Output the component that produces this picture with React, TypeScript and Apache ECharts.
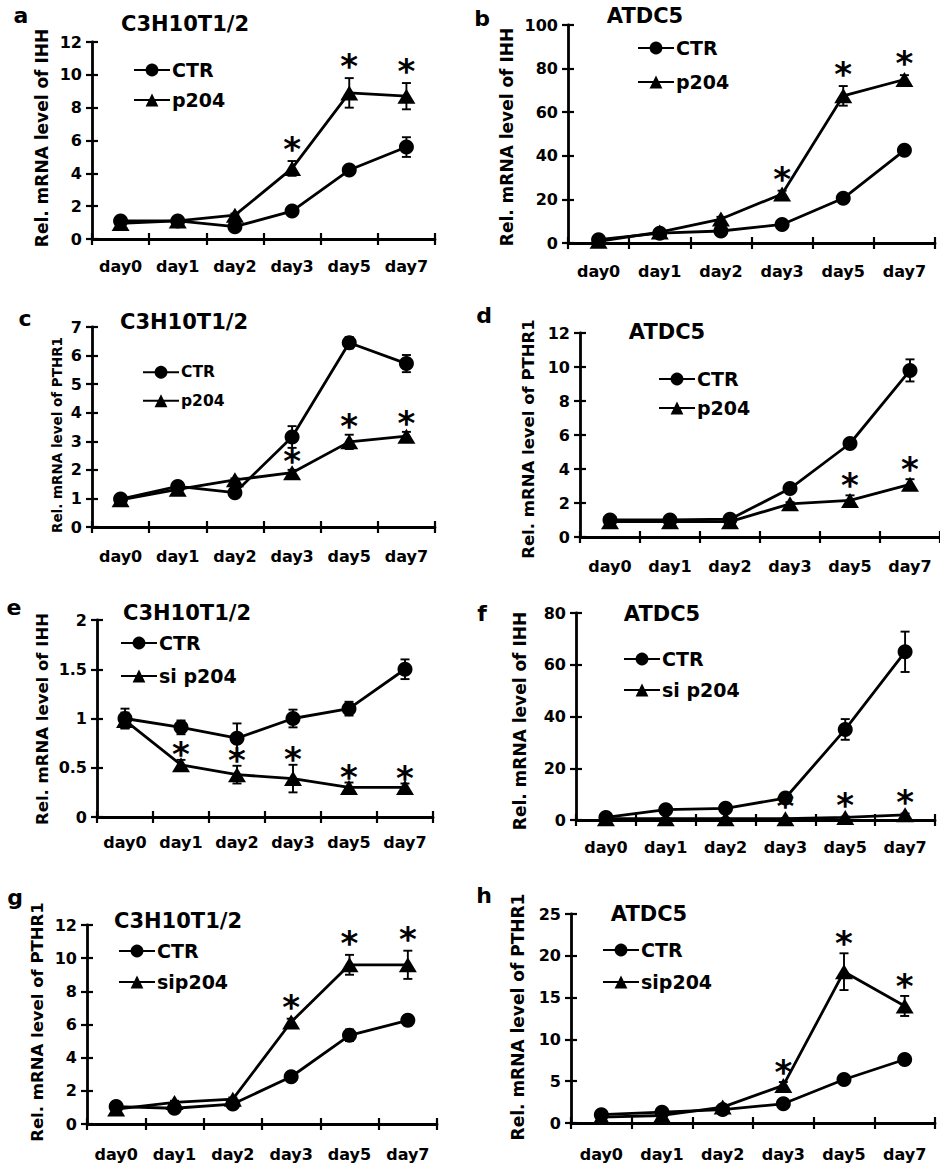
import React, { useEffect, useRef } from "react";
import * as echarts from "echarts";

// ---------------- DATA ----------------
const categories = ["day0", "day1", "day2", "day3", "day5", "day7"];

// a: C3H10T1/2, IHH, p204 overexpression
const aCTR = [1.1, 1.1, 0.75, 1.7, 4.2, 5.6];
const aCTRErr = [0.1, 0.1, 0.1, 0.12, 0.12, 0.6];
const aTRT = [0.95, 1.1, 1.45, 4.3, 8.9, 8.7];
const aTRTErr = [0.08, 0.1, 0.1, 0.45, 0.9, 0.8];
const aStars = [0, 0, 0, 1, 1, 1];

// b: ATDC5, IHH, p204
const bCTR = [1.5, 4.5, 5.5, 8.5, 20.5, 42.5];
const bCTRErr = [0.5, 0.5, 0.5, 0.8, 1.5, 1.5];
const bTRT = [0.8, 5, 11, 22.5, 67.5, 75];
const bTRTErr = [0.5, 1, 1, 1.5, 4.5, 2];
const bStars = [0, 0, 0, 1, 1, 1];

// c: C3H10T1/2, PTHR1, p204
const cCTR = [0.98, 1.42, 1.2, 3.15, 6.45, 5.72];
const cCTRErr = [0.05, 0.05, 0.05, 0.38, 0.2, 0.3];
const cTRT = [0.95, 1.32, 1.65, 1.9, 2.98, 3.18];
const cTRTErr = [0.05, 0.05, 0.05, 0.1, 0.25, 0.15];
const cStars = [0, 0, 0, 1, 1, 1];

// d: ATDC5, PTHR1, p204
const dCTR = [1.0, 1.0, 1.05, 2.85, 5.5, 9.8];
const dCTRErr = [0.1, 0.1, 0.1, 0.2, 0.15, 0.65];
const dTRT = [0.9, 0.9, 0.9, 1.95, 2.15, 3.1];
const dTRTErr = [0.1, 0.1, 0.1, 0.1, 0.3, 0.3];
const dStars = [0, 0, 0, 0, 1, 1];

// e: C3H10T1/2, IHH, si p204
const eCTR = [1.0, 0.91, 0.8, 1.0, 1.1, 1.5];
const eCTRErr = [0.1, 0.07, 0.15, 0.09, 0.07, 0.1];
const eTRT = [0.98, 0.53, 0.43, 0.39, 0.3, 0.3];
const eTRTErr = [0.08, 0.05, 0.09, 0.14, 0.05, 0.04];
const eStars = [0, 1, 1, 1, 1, 1];

// f: ATDC5, IHH, si p204
const fCTR = [1, 4, 4.5, 8.5, 35, 65];
const fCTRErr = [0.5, 0.5, 0.5, 1, 4, 7.8];
const fTRT = [0.5, 0.5, 0.5, 0.5, 1, 2];
const fTRTErr = [0.3, 0.3, 0.3, 0.3, 0.3, 0.5];
const fStars = [0, 0, 0, 1, 1, 1];

// g: C3H10T1/2, PTHR1, sip204
const gCTR = [1.05, 0.95, 1.2, 2.85, 5.35, 6.25];
const gCTRErr = [0.1, 0.1, 0.1, 0.15, 0.35, 0.3];
const gTRT = [0.9, 1.3, 1.5, 6.15, 9.6, 9.6];
const gTRTErr = [0.1, 0.1, 0.1, 0.2, 0.6, 0.85];
const gStars = [0, 0, 0, 1, 1, 1];

// h: ATDC5, PTHR1, sip204
const hCTR = [1.0, 1.3, 1.6, 2.3, 5.2, 7.6];
const hCTRErr = [0.2, 0.2, 0.2, 0.3, 0.3, 0.4];
const hTRT = [0.7, 0.9, 1.9, 4.5, 18.1, 14.0];
const hTRTErr = [0.2, 0.2, 0.3, 0.4, 2.2, 1.2];
const hStars = [0, 0, 0, 1, 1, 1];

const yMax = [12, 100, 7, 12, 2, 80, 12, 25];
const yStep = [2, 20, 1, 2, 0.5, 20, 2, 5];
const letters = ["a", "b", "c", "d", "e", "f", "g", "h"];
const cellLines = ["C3H10T1/2", "ATDC5", "C3H10T1/2", "ATDC5", "C3H10T1/2", "ATDC5", "C3H10T1/2", "ATDC5"];
const yNames = [
  "Rel. mRNA level of IHH",
  "Rel. mRNA level of IHH",
  "Rel. mRNA level of PTHR1",
  "Rel. mRNA level of PTHR1",
  "Rel. mRNA level of IHH",
  "Rel. mRNA level of IHH",
  "Rel. mRNA level of PTHR1",
  "Rel. mRNA level of PTHR1",
];
const treatNames = ["p204", "p204", "p204", "p204", "si p204", "si p204", "sip204", "sip204"];

const panelData = [
  [aCTR, aCTRErr, aTRT, aTRTErr, aStars],
  [bCTR, bCTRErr, bTRT, bTRTErr, bStars],
  [cCTR, cCTRErr, cTRT, cTRTErr, cStars],
  [dCTR, dCTRErr, dTRT, dTRTErr, dStars],
  [eCTR, eCTRErr, eTRT, eTRTErr, eStars],
  [fCTR, fCTRErr, fTRT, fTRTErr, fStars],
  [gCTR, gCTRErr, gTRT, gTRTErr, gStars],
  [hCTR, hCTRErr, hTRT, hTRTErr, hStars],
];

// ---------------- LAYOUT ----------------
// grid: left, top, width, height
const grids = [
  [92, 42, 343, 197],
  [568, 25, 367, 218],
  [92, 327, 343, 200],
  [580, 333, 366, 204],
  [97, 620, 336, 197],
  [576, 613, 359, 207],
  [87, 925, 350, 199],
  [571, 914, 364, 209],
];
const labelMargin = [19, 20, 21, 21, 17, 19, 22, 23];
const letterPos = [[21, 15], [482, 18], [25, 318], [484, 315], [14, 607], [482, 613], [15, 897], [484, 895]];
const titlePos = [[185, 24], [645, 16], [184, 322], [667, 332], [187, 613], [662, 614], [178, 921], [649, 914]];
const yNamePos = [[42, 138], [507, 137], [57, 435], [528, 439], [42, 719], [520, 721], [37, 1022], [518, 1017]];
const yNameSize = [17, 17, 13.5, 16.5, 16.5, 17, 16.5, 17];
// legend: left, center of first row, center of second row, font size
const legendLeft = [133, 637, 142, 658, 120, 623, 118, 602];
const legendRow1 = [70, 48, 372, 379, 643, 659, 951, 950];
const legendRow2 = [100, 82, 400, 408, 676, 690, 982, 982];
const legendFont = [19, 19, 15.5, 19, 19, 19, 19, 19];
const starOffset = [12, 12, 9, 10, 6, 12, 12, 10];

const FONT = "DejaVu Sans";

function buildOption() {
  const grid: any[] = [];
  const xAxis: any[] = [];
  const yAxis: any[] = [];
  const xAxis2: any[] = [];
  const yAxis2: any[] = [];
  const series: any[] = [];
  const legend: any[] = [];
  const graphic: any[] = [];

  panelData.forEach((pd, i) => {
    const [ctr, ctrErr, trt, trtErr, stars] = pd as number[][];
    const [l, t, w, h] = grids[i];
    grid.push({ left: l, top: t, width: w, height: h, containLabel: false });
    xAxis.push({
      type: "category",
      gridIndex: i,
      data: categories,
      boundaryGap: true,
      axisLine: { lineStyle: { color: "#000", width: 2.8 } },
      axisTick: { show: true, length: 6, lineStyle: { color: "#000", width: 2.2 }, alignWithLabel: false },
      axisLabel: { interval: 0, color: "#000", fontFamily: FONT, fontWeight: "bold", fontSize: 16, margin: labelMargin[i] },
      splitLine: { show: false },
    });
    xAxis2.push({
      type: "category",
      gridIndex: i,
      position: "bottom",
      data: categories,
      boundaryGap: true,
      axisLine: { show: false },
      axisTick: { show: true, inside: true, length: 6, lineStyle: { color: "#000", width: 2.2 } },
      axisLabel: { show: false },
      splitLine: { show: false },
    });
    yAxis.push({
      type: "value",
      gridIndex: i,
      min: 0,
      max: yMax[i],
      interval: yStep[i],
      axisLine: { show: true, lineStyle: { color: "#000", width: 2.8 } },
      axisTick: { show: true, length: 6, lineStyle: { color: "#000", width: 2.2 } },
      axisLabel: { color: "#000", fontFamily: FONT, fontWeight: "bold", fontSize: 16, margin: 10 },
      splitLine: { show: false },
    });
    yAxis2.push({
      type: "value",
      gridIndex: i,
      position: "left",
      min: 0,
      max: yMax[i],
      interval: yStep[i],
      axisLine: { show: false },
      axisTick: { show: true, inside: true, length: 6, lineStyle: { color: "#000", width: 2.2 } },
      axisLabel: { show: false },
      splitLine: { show: false },
    });

    const tName = treatNames[i];
    series.push({
      type: "line",
      name: "CTR",
      xAxisIndex: i,
      yAxisIndex: i,
      data: ctr,
      symbol: "circle",
      symbolSize: 15,
      itemStyle: { color: "#000" },
      lineStyle: { color: "#000", width: 2.8 },
      z: 3,
    });
    series.push({
      type: "line",
      name: tName,
      xAxisIndex: i,
      yAxisIndex: i,
      data: trt,
      symbol: "triangle",
      symbolSize: [18, 15],
      itemStyle: { color: "#000" },
      lineStyle: { color: "#000", width: 2.8 },
      z: 3,
    });

    const errData: number[][] = [];
    ctr.forEach((v, k) => errData.push([k, v, ctrErr[k]]));
    trt.forEach((v, k) => errData.push([k, v, trtErr[k]]));
    series.push({
      type: "custom",
      xAxisIndex: i,
      yAxisIndex: i,
      data: errData,
      encode: { x: 0, y: 1 },
      silent: true,
      z: 2,
      renderItem: (params: any, api: any) => {
        const x = api.value(0);
        const v = api.value(1);
        const e = api.value(2);
        const top = api.coord([x, v + e]);
        const bot = api.coord([x, Math.max(0, v - e)]);
        const cw = 4.5;
        const st = { stroke: "#000", lineWidth: 1.9 };
        return {
          type: "group",
          children: [
            { type: "line", shape: { x1: top[0], y1: top[1], x2: bot[0], y2: bot[1] }, style: st },
            { type: "line", shape: { x1: top[0] - cw, y1: top[1], x2: top[0] + cw, y2: top[1] }, style: st },
            { type: "line", shape: { x1: bot[0] - cw, y1: bot[1], x2: bot[0] + cw, y2: bot[1] }, style: st },
          ],
        };
      },
    });

    const starData: number[][] = [];
    stars.forEach((s, k) => {
      if (s) starData.push([k, trt[k] + trtErr[k]]);
    });
    const off = starOffset[i];
    series.push({
      type: "custom",
      xAxisIndex: i,
      yAxisIndex: i,
      data: starData,
      encode: { x: 0, y: 1 },
      silent: true,
      z: 4,
      renderItem: (params: any, api: any) => {
        const p = api.coord([api.value(0), api.value(1)]);
        return {
          type: "text",
          x: p[0],
          y: p[1] - off,
          style: {
            text: "*",
            fill: "#000",
            font: `bold 34px "${FONT}"`,
            textAlign: "center",
            textVerticalAlign: "middle",
          },
        };
      },
    });

    const fs = legendFont[i];
    legend.push({
      left: legendLeft[i],
      top: legendRow1[i] - fs / 2,
      orient: "vertical",
      padding: 0,
      data: ["CTR", tName],
      itemWidth: 36,
      itemHeight: 16,
      itemGap: legendRow2[i] - legendRow1[i] - fs,
      selectedMode: false,
      textStyle: { color: "#000", fontFamily: FONT, fontWeight: "bold", fontSize: fs, padding: [0, 0, 0, -3] },
    });

    graphic.push({
      type: "text",
      x: letterPos[i][0],
      y: letterPos[i][1],
      style: { text: letters[i], fill: "#000", font: `bold 22px "${FONT}"`, textAlign: "center", textVerticalAlign: "middle" },
    });
    graphic.push({
      type: "text",
      x: titlePos[i][0],
      y: titlePos[i][1],
      style: { text: cellLines[i], fill: "#000", font: `bold 21px "${FONT}"`, textAlign: "center", textVerticalAlign: "middle" },
    });
    graphic.push({
      type: "text",
      x: yNamePos[i][0],
      y: yNamePos[i][1],
      rotation: Math.PI / 2,
      style: {
        text: yNames[i],
        fill: "#000",
        font: `bold ${yNameSize[i]}px "${FONT}"`,
        textAlign: "center",
        textVerticalAlign: "middle",
      },
    });
  });

  return {
    animation: false,
    backgroundColor: "#fff",
    grid,
    xAxis: xAxis.concat(xAxis2),
    yAxis: yAxis.concat(yAxis2),
    series,
    legend,
    graphic,
  };
}

export default function App() {
  const ref = useRef<HTMLDivElement>(null);
  useEffect(() => {
    if (!ref.current) return;
    const chart = echarts.init(ref.current, undefined, { renderer: "svg" });
    chart.setOption(buildOption() as any);
    return () => chart.dispose();
  }, []);
  return (
    <div
      ref={ref}
      style={{ position: "absolute", left: 0, top: 0, width: 940, height: 1168, background: "#fff" }}
    />
  );
}
